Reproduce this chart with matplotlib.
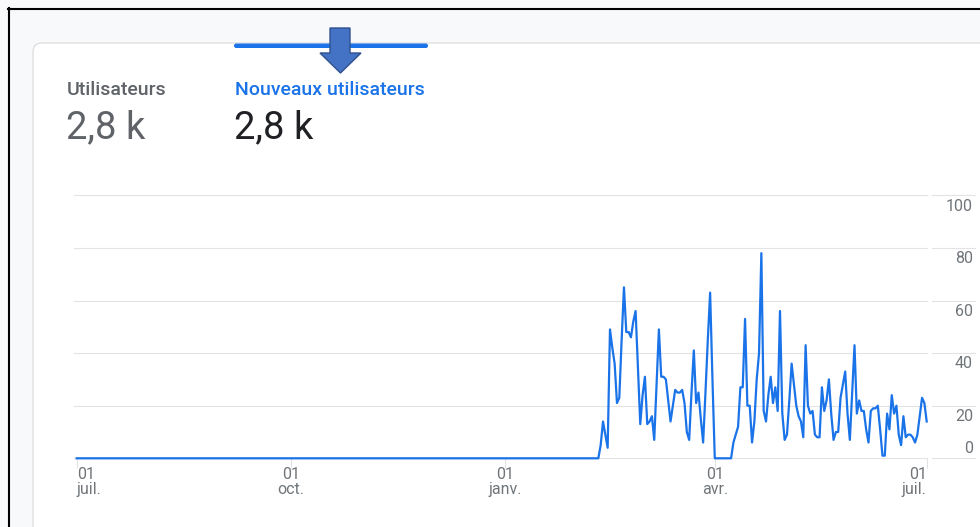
import matplotlib
matplotlib.use("Agg")
import matplotlib.pyplot as plt
import matplotlib.transforms as mtransforms
from matplotlib.lines import Line2D
from matplotlib.patches import FancyBboxPatch, Polygon
import pandas as pd

plt.rcParams["font.family"] = ["Roboto", "DejaVu Sans"]

W, H = 980, 527
BLUE = "#1a73e8"
GRID = "#e3e3e3"
LABEL = "#70757a"

# data (new users per day)
start_date = "2022-07-01"
flat_days = 224  # nothing before mid-Feb 2023
new_users_after = [
    0, 5, 14, 9, 4, 49, 42, 36, 21, 23,
    45, 65, 48, 48, 46, 52, 56, 35, 13, 24,
    31, 13, 14, 16, 7, 28, 49, 31, 31, 30,
    22, 14, 20, 26, 25, 25, 26, 21, 10, 7,
    25, 41, 21, 25, 15, 6, 25, 45, 63, 30,
    0, 0, 0, 0, 0, 0, 0, 0, 6, 9,
    12, 27, 27, 53, 20, 20, 6, 14, 30, 40,
    78, 18, 14, 24, 31, 21, 27, 18, 56, 17,
    7, 9, 22, 36, 28, 20, 16, 14, 8, 43,
    20, 17, 18, 9, 8, 8, 27, 18, 22, 30,
    17, 7, 10, 10, 23, 28, 33, 17, 7, 25,
    43, 17, 22, 18, 18, 11, 6, 18, 19, 19,
    20, 11, 1, 1, 17, 11, 24, 17, 20, 9,
    5, 16, 8, 9, 9, 8, 6, 9, 16, 23,
    21, 14,
]
tick_dates = ["2022-07-01", "2022-10-01", "2023-01-01", "2023-04-01", "2023-07-01"]
tick_labels = ["01\njuil.", "01\noct.", "01\njanv.", "01\navr.", "01\njuil."]
y_ticks = [0, 20, 40, 60, 80, 100]

metric_names = ["Utilisateurs", "Nouveaux utilisateurs"]
metric_values = ["2,8 k", "2,8 k"]


def fx(x):
    return x / W


def fy(y):
    return 1 - y / H


fig = plt.figure(figsize=(W / 100, H / 100), dpi=100, facecolor="#f8f9fa")
px = mtransforms.IdentityTransform()

# screenshot frame + card
fig.add_artist(Line2D([8, W], [H - 8.5, H - 8.5], transform=px, color="black", lw=1.5, zorder=10))
fig.add_artist(Line2D([9, 9], [0, H - 8], transform=px, color="black", lw=1.5, zorder=10))
card = FancyBboxPatch((33, -30), 1000, H - 43 + 30, boxstyle="round,pad=0,rounding_size=9",
                      transform=px, fc="white", ec="#e0e0e0", lw=1, zorder=-5)
fig.add_artist(card)
tab = FancyBboxPatch((234, H - 48), 194, 4.5, boxstyle="round,pad=0,rounding_size=2.2",
                     transform=px, fc=BLUE, ec="none", zorder=2)
fig.add_artist(tab)
arrow_pts = [(330, 28), (350, 28), (350, 53), (361, 53), (340.5, 73), (320, 53), (330, 53)]
fig.add_artist(Polygon([(x, H - y) for x, y in arrow_pts], closed=True, transform=px,
                       fc="#4472c4", ec="#2f528f", lw=1, zorder=5))

# metric headers
name_x = [67, 235]
name_colors = ["#5f6368", BLUE]
value_colors = ["#5f6368", "#202124"]
for i in range(2):
    fig.text(fx(name_x[i]), fy(95), metric_names[i], fontsize=14, fontweight="medium",
             color=name_colors[i], va="baseline", ha="left")
    fig.text(fx(name_x[i] - 1), fy(138), metric_values[i], fontsize=27.5,
             color=value_colors[i], va="baseline", ha="left")

# chart
ax_left, ax_right, ax_top, ax_bottom = 76.7, 926.7, 195.3, 458.3
ax = fig.add_axes([fx(ax_left), fy(ax_bottom), (ax_right - ax_left) / W, (ax_bottom - ax_top) / H])
ax.set_facecolor("none")

values = [0] * flat_days + new_users_after
dates = pd.date_range(start_date, periods=len(values), freq="D")
ax.plot(dates, values, color=BLUE, lw=1.6, solid_joinstyle="round", clip_on=False, zorder=3)
ax.set_xlim(dates[0], dates[-1])
ax.set_ylim(0, 100)
for s in ax.spines.values():
    s.set_visible(False)
ax.set_yticks([])

ytrans = ax.get_yaxis_transform()
for v in y_ticks:
    ax.plot([-0.003, 1.0005], [v, v], transform=ytrans, color=GRID, lw=0.8, clip_on=False, zorder=1)
    ax.plot([1.006, 1.057], [v, v], transform=ytrans, color=GRID, lw=0.8, clip_on=False, zorder=1)
    off = 5.6 if v == 0 else -15.4
    t = mtransforms.offset_copy(ytrans, fig=fig, x=0, y=off, units="dots")
    ax.text(1.0545, v, str(v), transform=t, ha="right", va="baseline", fontsize=11.5, color=LABEL)

ax.set_xticks(pd.to_datetime(tick_dates))
ax.set_xticklabels(tick_labels, fontsize=11.5, color=LABEL, linespacing=1.0)
ax.tick_params(axis="x", length=7, color=GRID, width=0.8, pad=-0.5)
xl = ax.get_xticklabels()
xl[0].set_ha("left")
xl[-1].set_ha("right")

fig.savefig("out.png", dpi=100, facecolor=fig.get_facecolor())
